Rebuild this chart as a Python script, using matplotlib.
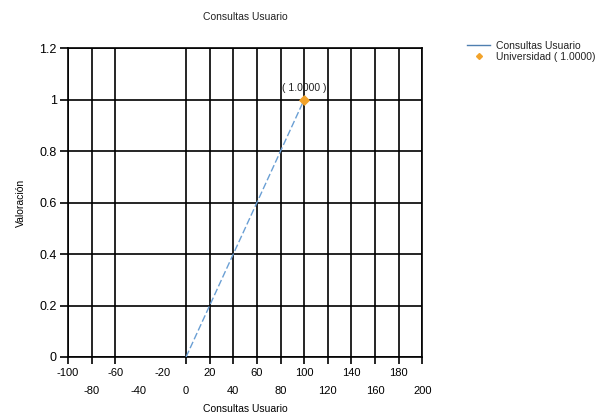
import matplotlib.pyplot as plt
from matplotlib.lines import Line2D
from matplotlib.ticker import FuncFormatter

plt.rcParams["font.family"] = ["Liberation Sans", "DejaVu Sans"]
plt.rcParams["text.color"] = "#222222"

# data
line_x = [0, 20, 40, 60, 80, 100]
line_y = [0.0, 0.2, 0.4, 0.6, 0.8, 1.0]
point_x = [100]
point_y = [1.0]
point_label = "( 1.0000 )"
legend_labels = ["Consultas Usuario", "Universidad ( 1.0000)"]

grid_x = [-100, -80, -60, 0, 20, 40, 60, 80, 100, 120, 140, 160, 180, 200]
row1_x = [-100, -60, -20, 20, 60, 100, 140, 180]
row2_x = [-80, -40, 0, 40, 80, 120, 160, 200]
y_ticks = [0, 0.2, 0.4, 0.6, 0.8, 1.0, 1.2]

line_color = "#6A9FD4"
point_color = "#F2A32B"
fmt = FuncFormatter(lambda v, p: f"{v:g}")

fig = plt.figure(figsize=(6.12, 4.19), dpi=100)
ax = fig.add_axes([0.111, 0.148, 0.579, 0.737])

ax.plot(line_x, line_y, color=line_color, lw=1.0, dashes=(5, 2), zorder=3)
ax.scatter(point_x, point_y, marker="D", s=22, color=point_color, zorder=4)
for px, py in zip(point_x, point_y):
    ax.annotate(point_label, (px, py), xytext=(0, 5), textcoords="offset points",
                ha="center", va="bottom", fontsize=7.5)

ax.set_xlim(-100, 200)
ax.set_ylim(0, 1.2)

# grid lines + tick marks, labels staggered on two rows
ax.xaxis.remove_overlapping_locs = False
ax.set_xticks(grid_x)
ax.tick_params(axis="x", which="major", length=5, width=1.2, labelbottom=False)
ax.set_xticks(row1_x, minor=True)
ax.xaxis.set_minor_formatter(fmt)
ax.tick_params(axis="x", which="minor", length=0, pad=8, labelsize=8)

sec = ax.secondary_xaxis("bottom")
sec.set_xticks(row2_x)
sec.xaxis.set_major_formatter(fmt)
sec.tick_params(length=0, pad=21, labelsize=8)
sec.spines["bottom"].set_visible(False)

ax.set_yticks(y_ticks)
ax.yaxis.set_major_formatter(fmt)
ax.tick_params(axis="y", length=6, width=1.2, labelsize=9, pad=2)

ax.grid(True, color="black", lw=1.2)
ax.set_axisbelow(True)
for s in ax.spines.values():
    s.set_linewidth(1.2)

ax.set_title("Consultas Usuario", fontsize=7.5, pad=20)
ax.set_xlabel("Consultas Usuario", fontsize=7.5, labelpad=19)
ax.set_ylabel("Valoración", fontsize=7.5, labelpad=10)

handles = [
    Line2D([], [], color="#4F7FB0", lw=1.0),
    Line2D([], [], color=point_color, marker="D", markersize=3, lw=0),
]
fig.legend(handles, legend_labels, loc="upper left", bbox_to_anchor=(0.755, 0.915),
           frameon=False, fontsize=7.5, handlelength=2.2, labelspacing=0.1,
           borderpad=0, handletextpad=0.6)

fig.savefig("out.png", dpi=100)
